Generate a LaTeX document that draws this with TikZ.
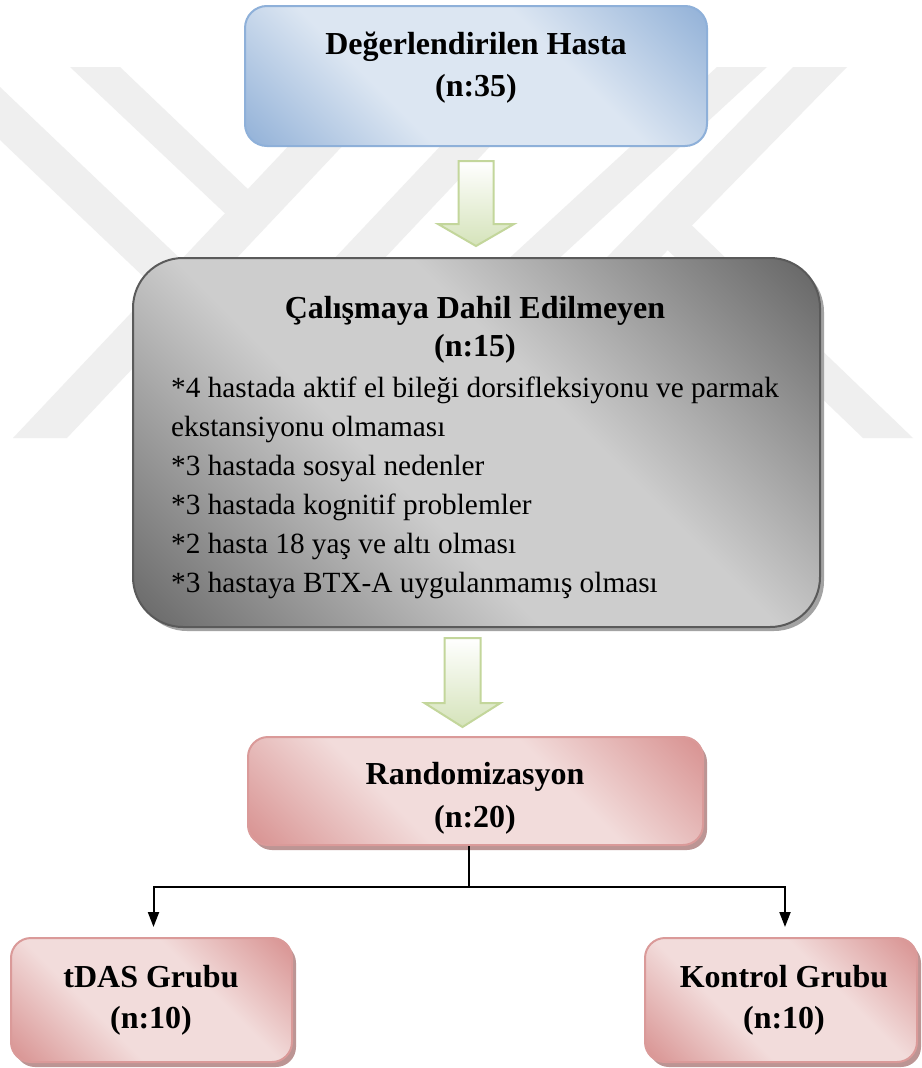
\documentclass[tikz,border=0pt]{standalone}
\usepackage{fontspec}
\setmainfont{Liberation Serif}
\usetikzlibrary{arrows.meta,calc,shadows}
\definecolor{bdark}{HTML}{96B4D9}
\definecolor{blight}{HTML}{DCE6F2}
\definecolor{bline}{HTML}{8EB0D9}
\definecolor{gdarkA}{HTML}{6C6C6C}
\definecolor{gdarkB}{HTML}{656565}
\definecolor{glight}{HTML}{CDCDCD}
\definecolor{gline}{HTML}{5A5A5A}
\definecolor{gshadow}{HTML}{A3A3A3}
\definecolor{pdark}{HTML}{D99594}
\definecolor{plight}{HTML}{F2DCDB}
\definecolor{pline}{HTML}{DA9A99}
\definecolor{pshadow}{HTML}{BC9594}
\definecolor{grline}{HTML}{C3D69B}
\definecolor{grfill}{HTML}{D5E3BA}
\definecolor{wm}{HTML}{EFEFEF}
\pgfdeclarehorizontalshading{blueshade}{100bp}{color(0bp)=(bdark); color(16bp)=(bdark); color(37bp)=(blight); color(62bp)=(blight); color(84bp)=(bdark); color(100bp)=(bdark)}
\pgfdeclarehorizontalshading{grayshade}{100bp}{color(0bp)=(gdarkA); color(16bp)=(gdarkA); color(42bp)=(glight); color(58bp)=(glight); color(85bp)=(gdarkB); color(100bp)=(gdarkB)}
\pgfdeclarehorizontalshading{pinkshade}{100bp}{color(0bp)=(pdark); color(16bp)=(pdark); color(38bp)=(plight); color(62bp)=(plight); color(84bp)=(pdark); color(100bp)=(pdark)}
\tikzset{
  box/.style={rectangle, inner sep=0pt, line width=2pt, shade, shading angle=45},
  bluebox/.style={box, draw=bline, shading=blueshade, rounded corners=22pt},
  graybox/.style={box, draw=gline, shading=grayshade, rounded corners=50pt,
    drop shadow={shadow xshift=4pt, shadow yshift=-4pt, fill=gshadow, opacity=1}},
  pinkbox/.style={box, draw=pline, shading=pinkshade, rounded corners=20pt,
    drop shadow={shadow xshift=4pt, shadow yshift=-5pt, fill=pshadow, opacity=1}},
  boldtxt/.style={font=\bfseries\fontsize{32}{40}\selectfont, anchor=base, inner sep=0pt},
  bodytxt/.style={font=\fontsize{29.3}{39}\selectfont, anchor=base west, inner sep=0pt},
  conn/.style={line width=2pt, black},
  greenarrow/.style={draw=grline, line width=2pt, line join=miter, top color=white, bottom color=grfill}
}
\begin{document}
\begin{tikzpicture}[x=1pt,y=-1pt]
\useasboundingbox (0,0) rectangle (921,1068);
\fill[white] (0,0) rectangle (921,1068);
% watermark
\begin{scope}
\clip (0,67) rectangle (921,438);
\fill[wm] (13,438) -- (67,438) -- (417,67) -- (363,67) -- cycle;
\fill[wm] (165,438) -- (215,438) -- (565,67) -- (515,67) -- cycle;
\fill[wm] (70,67) -- (120,67) -- (262,202.5) -- (240,227.6) -- cycle;
\fill[wm] (0,87) -- (195.5,273.2) -- (169.2,301.2) -- (0,140) -- cycle;
\fill[wm] (717,67) -- (767,67) -- (364,438) -- (314,438) -- cycle;
\fill[wm] (793,67) -- (847,67) -- (484,438) -- (430,438) -- cycle;
\fill[wm] (677.9,212) -- (913,438) -- (863,438) -- (653.7,236.7) -- cycle;
\end{scope}
% boxes
\node[bluebox, minimum width=462pt, minimum height=140pt] (b1) at (476,76) {};
\node[graybox, minimum width=687pt, minimum height=369pt] (g) at (476.5,442.5) {};
\node[pinkbox, minimum width=455pt, minimum height=108pt] (r) at (475.5,791) {};
\node[pinkbox, minimum width=281pt, minimum height=124pt] (t) at (151.5,1000) {};
\node[pinkbox, minimum width=272pt, minimum height=124pt] (k) at (781,1000) {};
% texts
\node[boldtxt] (b1a) at (476,54) {Değerlendirilen Hasta};
\node[boldtxt] (b1b) at (476,96) {(n:35)};
\node[boldtxt] (ga) at (475,318) {Çalışmaya Dahil Edilmeyen};
\node[boldtxt] (gb) at (475,356) {(n:15)};
\node[bodytxt] (l1) at (171,397) {*4 hastada aktif el bileği dorsifleksiyonu ve parmak};
\node[bodytxt] (l2) at (171,436) {ekstansiyonu olmaması};
\node[bodytxt] (l3) at (171,475) {*3 hastada sosyal nedenler};
\node[bodytxt] (l4) at (171,514) {*3 hastada kognitif problemler};
\node[bodytxt] (l5) at (171,553) {*2 hasta 18 yaş ve altı olması};
\node[bodytxt] (l6) at (171,592) {*3 hastaya BTX-A uygulanmamış olması};
\node[boldtxt] (ra) at (475,784) {Randomizasyon};
\node[boldtxt] (rb) at (475,827) {(n:20)};
\node[boldtxt] (ta) at (151,987) {tDAS Grubu};
\node[boldtxt] (tb) at (151,1028) {(n:10)};
\node[boldtxt] (ka) at (784,987) {Kontrol Grubu};
\node[boldtxt] (kb) at (784,1028) {(n:10)};
% block arrows
\path[greenarrow] ($(b1.south)+(-17.5,14)$) -- ++(35,0) -- ++(0,63) -- ++(20.5,0)
  -- ++(-38,22) -- ++(-38,-22) -- ++(20.5,0) -- cycle;
\path[greenarrow] ($(g.south)+(-32,10)$) -- ++(36,0) -- ++(0,65) -- ++(20,0)
  -- ++(-38,24) -- ++(-38,-24) -- ++(20,0) -- cycle;
% connectors
\coordinate (j) at ($(r.south)+(-6.5,41)$);
\coordinate (jl) at ($(j -| t.north)+(2,0)$);
\coordinate (jr) at ($(j -| k.north)+(4,0)$);
\draw[conn] (r.south -| j) -- (j);
\draw[conn, {Triangle[width=11pt,length=15pt]}-{Triangle[width=11pt,length=15pt]}]
  ($(jl |- t.north)+(0,-10)$) -- (jl) -- (jr) -- ($(jr |- k.north)+(0,-10)$);
\end{tikzpicture}
\end{document}
